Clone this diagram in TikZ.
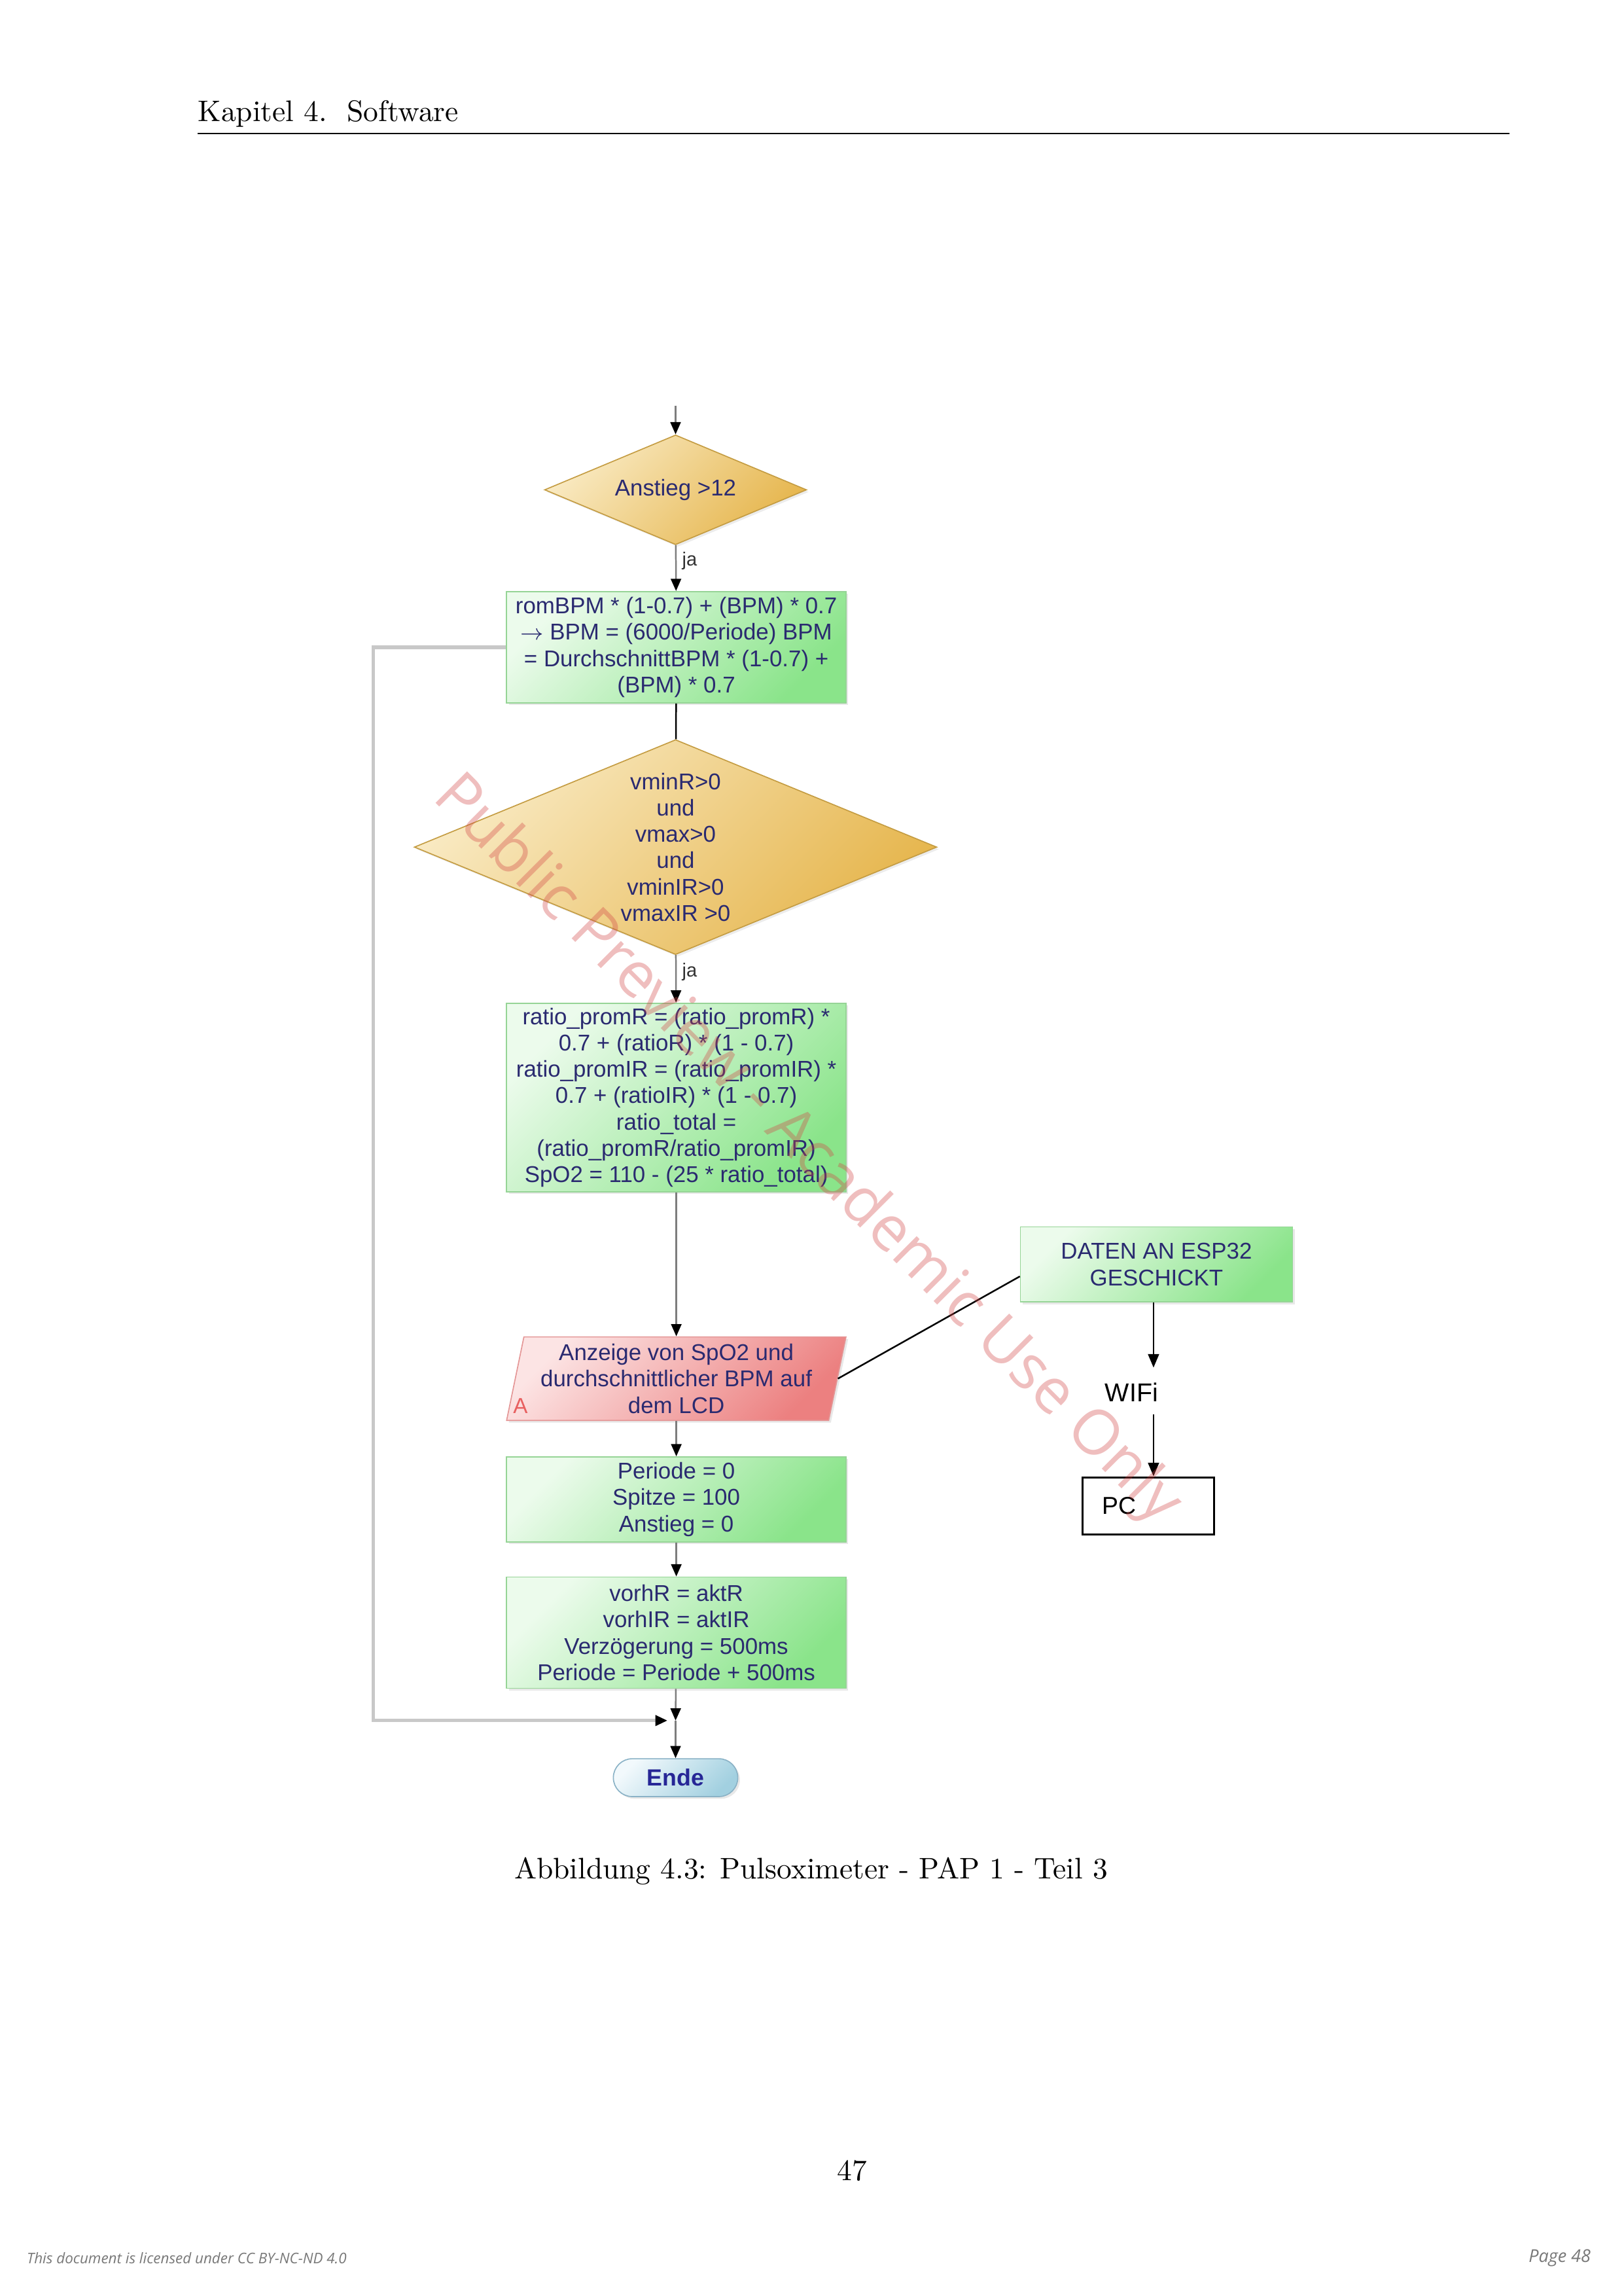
\documentclass[tikz,border=0pt]{standalone}
\usepackage{fontspec}
\newfontfamily\papfont{Liberation Sans}
\newfontfamily\wmfont{Open Sans}
\usepackage{tikz}
\usetikzlibrary{shapes.geometric,shadows,arrows.meta,calc}

\definecolor{papnavy}{RGB}{42,42,112}
\definecolor{greenlight}{RGB}{236,251,236}
\definecolor{greendark}{RGB}{138,228,138}
\definecolor{greenline}{RGB}{150,212,150}
\definecolor{goldlight}{RGB}{249,234,195}
\definecolor{golddark}{RGB}{230,182,78}
\definecolor{goldline}{RGB}{196,156,66}
\definecolor{pinklight}{RGB}{252,228,228}
\definecolor{pinkdark}{RGB}{236,128,128}
\definecolor{pinkline}{RGB}{228,150,150}
\definecolor{bluelight}{RGB}{242,249,252}
\definecolor{bluedark}{RGB}{162,208,224}
\definecolor{blueline}{RGB}{138,178,198}
\definecolor{flowgray}{RGB}{125,125,125}
\definecolor{loopgray}{RGB}{200,200,200}
\definecolor{wmred}{RGB}{210,70,70}

\newcommand{\papsize}{\papfont\fontsize{8.4}{9.7}\selectfont}

\tikzstyle{process}=[rectangle, draw=greenline, top color=greenlight, bottom color=greendark, shading angle=45, minimum width=4.39cm, inner sep=1pt, align=center, text=papnavy, font=\papsize, drop shadow={opacity=0.18, shadow xshift=0.8pt, shadow yshift=-0.8pt}]
\tikzstyle{decision}=[diamond, draw=goldline, top color=goldlight, bottom color=golddark, shading angle=45, inner sep=0pt, align=center, text=papnavy, font=\papsize, drop shadow={opacity=0.15, shadow xshift=0.8pt, shadow yshift=-0.8pt}]
\tikzstyle{display}=[trapezium, trapezium left angle=77, trapezium right angle=103, trapezium stretches body, draw=pinkline, top color=pinklight, bottom color=pinkdark, shading angle=45, minimum width=4.39cm, minimum height=1.08cm, inner sep=1pt, align=center, text=papnavy, font=\papsize, drop shadow={opacity=0.18, shadow xshift=0.8pt, shadow yshift=-0.8pt}]
\tikzstyle{terminal}=[rectangle, rounded corners=0.245cm, draw=blueline, top color=bluelight, bottom color=bluedark, shading angle=45, minimum width=1.61cm, minimum height=0.49cm, inner sep=0pt, text={rgb,255:red,38;green,38;blue,150}, font=\papfont\fontsize{8.6}{10}\selectfont\bfseries, drop shadow={opacity=0.18, shadow xshift=0.8pt, shadow yshift=-0.8pt}]
\tikzstyle{plainbox}=[rectangle, draw=black, line width=0.8pt, fill=white, minimum width=1.65cm, minimum height=0.74cm, text width=1.2cm, inner xsep=0.25cm, align=left, font=\papfont\fontsize{9}{10}\selectfont]
\tikzstyle{yeslabel}=[right, inner sep=2pt, text={rgb,255:red,50;green,50;blue,50}, font=\papfont\fontsize{7}{8}\selectfont]
\tikzstyle{flowedge}=[draw=flowgray, line width=0.6pt, -{Triangle[length=4.5pt,width=3.8pt,color=black]}]
\tikzstyle{darkline}=[draw=black, line width=0.6pt]
\tikzstyle{darkedge}=[draw=black, line width=0.7pt, -{Triangle[length=5pt,width=4pt]}]
\tikzstyle{loopedge}=[draw=loopgray, line width=1.3pt, -{Triangle[length=4.5pt,width=3.8pt,color=black]}]
\tikzstyle{pagetext}=[inner sep=0pt, font=\fontsize{10.95}{13.6}\selectfont]
\tikzstyle{foottext}=[inner sep=0pt, text={rgb,255:red,120;green,120;blue,120}]

\begin{document}
\begin{tikzpicture}[x=0.018936cm, y=-0.018936cm]
    \useasboundingbox (0,0) rectangle (1109,1568);

    % page head and rule
    \node[pagetext, anchor=base west] (head) at (135,83) {Kapitel 4.\ \ Software};
    \coordinate (ruleL) at (135,91);
    \coordinate (ruleR) at (1031,91);
    \draw[line width=0.5pt] (ruleL) -- (ruleR);

    % main column
    \coordinate (start) at (461.5,277);
    \node[decision, minimum width=3.39cm, minimum height=1.42cm, aspect=2.39] (anstieg) at (461.5,334.5) {Anstieg >12};
    \node[process, minimum height=1.44cm] (bpm) at (462,442) {romBPM * (1-0.7) + (BPM) * 0.7\\$\rightarrow$ BPM = (6000/Periode) BPM\\= DurchschnittBPM * (1-0.7) +\\(BPM) * 0.7};
    \node[decision, minimum width=6.76cm, minimum height=2.78cm, aspect=2.43] (werte) at (461.5,578.5) {vminR>0\\und\\vmax>0\\und\\vminIR>0\\vmaxIR >0};
    \node[process, minimum height=2.44cm] (ratio) at (462,749.5) {ratio\_promR = (ratio\_promR) *\\0.7 + (ratioR) * (1 - 0.7)\\ratio\_promIR = (ratio\_promIR) *\\0.7 + (ratioIR) * (1 - 0.7)\\ratio\_total =\\(ratio\_promR/ratio\_promIR)\\SpO2 = 110 - (25 * ratio\_total)};
    \node[display] (lcd) at (462,941.5) {Anzeige von SpO2 und\\durchschnittlicher BPM auf\\dem LCD};
    \node[inner sep=0pt, text={rgb,255:red,232;green,96;blue,96}, font=\papfont\fontsize{8}{9}\selectfont] (lcdA) at (355.5,960) {A};
    \node[process, minimum height=1.10cm] (reset) at (462,1024) {Periode = 0\\Spitze = 100\\Anstieg = 0};
    \node[process, minimum height=1.44cm] (vorh) at (462,1115) {vorhR = aktR\\vorhIR = aktIR\\Verz\"ogerung = 500ms\\Periode = Periode + 500ms};
    \coordinate (junc) at (461.5,1175);
    \coordinate (juncL) at (456,1175);
    \node[terminal] (ende) at (461.5,1214) {Ende};

    % right side
    \node[process, minimum width=3.52cm, minimum height=0.97cm] (daten) at (790,863.5) {DATEN AN ESP32\\GESCHICKT};
    \coordinate (wifiN) at (788,934);
    \node[inner sep=0pt, font=\papfont\fontsize{9.5}{11}\selectfont] (wifi) at (773,951) {WIFi};
    \coordinate (wifiS) at (788,966);
    \node[plainbox] (pc) at (784.5,1028.5) {PC};

    % connectors
    \path[flowedge] (start) -- (anstieg);
    \path[flowedge] (anstieg) -- node[yeslabel, pos=0.35] (ja1) {ja} (bpm);
    \path[darkline] (bpm) -- (werte);
    \path[flowedge] (werte) -- node[yeslabel, pos=0.36] (ja2) {ja} (ratio);
    \path[flowedge] (ratio.south) -- (ratio.south |- lcd.north);
    \path[flowedge] (lcd.south -| reset.north) -- (reset.north);
    \foreach \source/\dest in {reset/vorh, vorh/junc, junc/ende}
        \path[flowedge] (\source) -- (\dest);
    \coordinate (loopT) at (255,442);
    \path[loopedge] (bpm.west) -- (loopT) |- (juncL);

    \path[darkline] (daten.185) -- (lcd.east);
    \path[darkedge] (wifiN |- daten.south) -- (wifiN);
    \path[darkedge] (wifiS) -- (wifiS |- pc.north);

    % caption, page number, footer
    \node[pagetext, anchor=base] (caption) at (554,1283) {Abbildung 4.3: Pulsoximeter - PAP 1 - Teil 3};
    \node[pagetext, anchor=base] (pagenum) at (582,1489) {47};
    \node[foottext, anchor=base west, font=\wmfont\itshape\fontsize{5.4}{6}\selectfont] (licence) at (18,1546) {This document is licensed under CC BY-NC-ND 4.0};
    \node[foottext, anchor=base east, font=\wmfont\itshape\fontsize{6.5}{7}\selectfont] (pagefoot) at (1087,1545) {Page 48};

    % watermark
    \node[inner sep=0pt, rotate=-45, text=wmred, text opacity=0.35, font=\wmfont\fontsize{23}{26}\selectfont] (mark) at (551,786) {Public Preview - Academic Use Only};
\end{tikzpicture}
\end{document}
